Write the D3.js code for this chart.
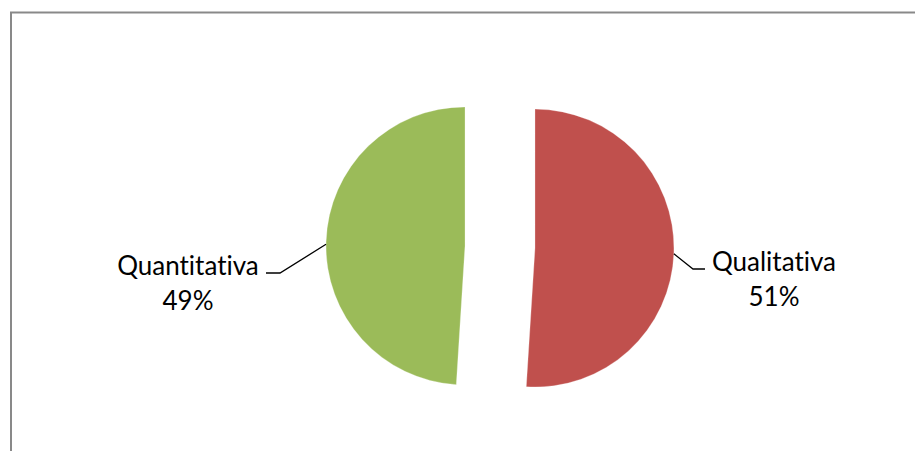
<!DOCTYPE html>
<html><head><meta charset="utf-8">
<script src="https://cdn.jsdelivr.net/npm/d3@7"></script>
<style>html,body{margin:0;padding:0;background:#fff;}svg{display:block;}text{font-variant-ligatures:none;}</style>
</head><body>
<svg id="c" width="915" height="451"></svg>
<script>
const categories = ["Qualitativa", "Quantitativa"];
const values = [51, 49];
const labels = ["51%", "49%"];
const colors = ["#C0504D", "#9BBB59"];

const svg = d3.select("#c");
// frame
svg.append("path").attr("d", `M11,451 L11,12.5 L915,12.5`).attr("fill","none")
  .attr("stroke","#898989").attr("stroke-width",2);

const cx = 500, cy = 247, r = 139, explode = 35;
const pie = d3.pie().sort(null).value(d => d)(values);
const arc = d3.arc().innerRadius(0).outerRadius(r);

const g = svg.append("g").attr("transform", `translate(${cx},${cy})`);
pie.forEach((p, i) => {
  const mid = (p.startAngle + p.endAngle) / 2;
  const dx = Math.sin(mid) * explode, dy = -Math.cos(mid) * explode;
  const sg = g.append("g").attr("transform", `translate(${dx},${dy})`);
  sg.append("path").attr("d", arc(p)).attr("fill", colors[i])
    .attr("stroke", "#ffffff").attr("stroke-opacity", 0.35).attr("stroke-width", 0.8);
});

// labels with leader lines
const labelCfg = [
  {tx: 774, ty: 269, elbowX: 693, endX: 705},
  {tx: 188, ty: 273, elbowX: 280, endX: 266}
];
pie.forEach((p, i) => {
  const mid = (p.startAngle + p.endAngle) / 2;
  const dx = Math.sin(mid) * explode, dy = -Math.cos(mid) * explode;
  const off = i === 0 ? 0.01 : -0.02;
  const ax = cx + dx + Math.sin(mid + off) * r;
  const ay = cy + dy - Math.cos(mid + off) * r;
  const c = labelCfg[i];
  svg.append("path")
    .attr("d", `M${ax},${ay} L${c.elbowX},${c.ty} L${c.endX},${c.ty}`)
    .attr("fill","none").attr("stroke","#000").attr("stroke-width",1.3);
  const t = svg.append("text").attr("text-anchor","middle")
    .attr("font-family","Lato, 'Open Sans', sans-serif").attr("font-size",26)
    .attr("fill","#000");
  t.append("tspan").attr("x", c.tx).attr("y", c.ty + 2).text(categories[i]);
  t.append("tspan").attr("x", c.tx).attr("y", c.ty + 37).text(labels[i]);
});
</script>
</body></html>
